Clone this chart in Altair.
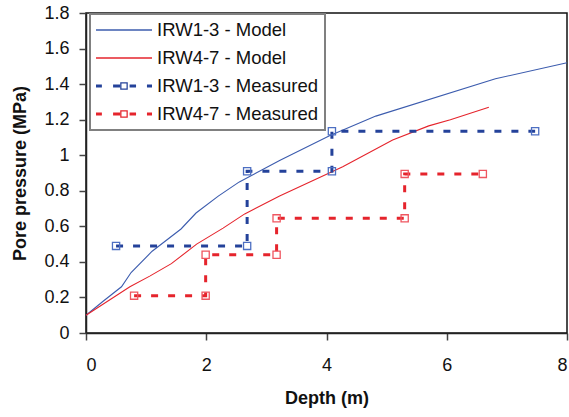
import altair as alt
import pandas as pd

SERIES = ["IRW1-3 - Model", "IRW4-7 - Model", "IRW1-3 - Measured", "IRW4-7 - Measured"]

# Model curves
M13_DEPTH = [0, 0.29, 0.59, 0.75, 1.1, 1.58, 1.83, 2.2, 2.55, 3.22, 4.05, 4.82, 6.81, 8.0]
M13_PRES = [0.10, 0.18, 0.26, 0.34, 0.46, 0.585, 0.675, 0.77, 0.85, 0.97, 1.11, 1.22, 1.43, 1.52]
M47_DEPTH = [0, 0.73, 1.06, 1.42, 1.84, 2.28, 2.64, 3.22, 4.27, 5.10, 5.70, 6.06, 6.70]
M47_PRES = [0.10, 0.26, 0.32, 0.39, 0.50, 0.59, 0.67, 0.77, 0.935, 1.085, 1.165, 1.20, 1.27]

# Measured (step) series
S13_DEPTH = [0.5, 2.68, 2.68, 4.09, 4.09, 7.47]
S13_PRES = [0.49, 0.49, 0.91, 0.91, 1.135, 1.135]
S47_DEPTH = [0.8, 1.99, 1.99, 3.17, 3.17, 5.30, 5.30, 6.60]
S47_PRES = [0.21, 0.21, 0.44, 0.44, 0.645, 0.645, 0.895, 0.895]

X_TICKS = [0, 2, 4, 6, 8]
Y_TICKS = [0, 0.2, 0.4, 0.6, 0.8, 1.0, 1.2, 1.4, 1.6, 1.8]

LINE_COLORS = ["#3c5cae", "#e5242c", "#24429a", "#e5242c"]
MARKER_COLORS = ["#4d6fc2", "#ef5660"]

MEAS_PATH = (
    "M-1,-0.055H-0.79V0.055H-1Z M-0.39,-0.055H-0.14V0.055H-0.39Z "
    "M0.2,-0.055H0.43V0.055H0.2Z M0.82,-0.055H1V0.055H0.82Z "
    "M-0.135,-0.135H0.135V0.135H-0.135Z M-0.09,-0.09V0.09H0.09V-0.09Z"
)
MODEL_PATH = "M-1,-0.025H1V0.025H-1Z"
LEGEND_PATHS = [MODEL_PATH, MODEL_PATH, MEAS_PATH, MEAS_PATH]

rows = []
for name, kind, xs, ys in [
    (SERIES[0], "Model", M13_DEPTH, M13_PRES),
    (SERIES[1], "Model", M47_DEPTH, M47_PRES),
    (SERIES[2], "Measured", S13_DEPTH, S13_PRES),
    (SERIES[3], "Measured", S47_DEPTH, S47_PRES),
]:
    for i, (x, y) in enumerate(zip(xs, ys)):
        rows.append({"series": name, "kind": kind, "depth": x, "pressure": y, "idx": i})
df = pd.DataFrame(rows)

FONT = "Liberation Sans"

x_enc = alt.X(
    "depth:Q",
    scale=alt.Scale(domain=[0, 8], nice=False, zero=False),
    axis=alt.Axis(values=X_TICKS, title="Depth (m)", labelPadding=16,
                  titleY=70, titleBaseline="alphabetic"),
)
y_enc = alt.Y(
    "pressure:Q",
    scale=alt.Scale(domain=[0, 1.8], nice=False, zero=False),
    axis=alt.Axis(values=Y_TICKS, format="~g", title="Pore pressure (MPa)",
                  labelPadding=10, titleX=-61, titleY=160, titleBaseline="alphabetic"),
)

# line colour scale (domain listed in reverse so it is not merged with the legend's scale)
color_scale = alt.Scale(domain=SERIES[::-1], range=LINE_COLORS[::-1])

base = alt.Chart(df)

model = base.transform_filter(alt.datum.kind == "Model").mark_line(strokeWidth=1.1).encode(
    x=x_enc, y=y_enc,
    color=alt.Color("series:N", scale=color_scale, legend=None),
    order=alt.Order("idx:Q"),
)

measured = base.transform_filter(alt.datum.kind == "Measured").mark_line(
    strokeWidth=3, strokeDash=[7, 10]
).encode(
    x=x_enc, y=y_enc,
    color=alt.Color("series:N", scale=color_scale, legend=None),
    order=alt.Order("idx:Q"),
)

points = base.transform_filter(alt.datum.kind == "Measured").mark_point(
    shape="square", filled=False, size=52, strokeWidth=1.3, opacity=1
).encode(
    x=x_enc, y=y_enc,
    stroke=alt.Stroke("series:N", scale=alt.Scale(domain=SERIES[2:], range=MARKER_COLORS), legend=None),
)

leg = alt.Legend(title=None, orient="none", legendX=4, legendY=1, symbolOpacity=1,
                 clipHeight=20, labelLimit=400)
legend_layer = base.mark_point(filled=True, strokeWidth=0, opacity=0).encode(
    x=x_enc, y=y_enc,
    fill=alt.Fill("series:N", scale=alt.Scale(domain=SERIES, range=LINE_COLORS), legend=leg),
    shape=alt.Shape("series:N", scale=alt.Scale(domain=SERIES, range=LEGEND_PATHS), legend=leg),
)

chart = alt.layer(model, measured, points, legend_layer).properties(
    width=481, height=320,
    autosize=alt.AutoSizeParams(type="none"),
    padding={"left": 86, "top": 13, "right": 2, "bottom": 84},
).configure_view(
    stroke="#111", strokeWidth=1.5
).configure_axis(
    grid=False, domainColor="#222", domainWidth=1.5, tickColor="#444", tickWidth=1.5,
    tickSize=7, labelFont=FONT, labelFontSize=18, labelColor="#111",
    titleFont=FONT, titleFontSize=18, titleFontWeight="bold", titleColor="#111",
).configure_legend(
    labelFont=FONT, labelFontSize=18.5, labelColor="#111", symbolSize=3136,
    symbolStrokeWidth=0, labelOffset=5, padding=6, rowPadding=8,
    strokeColor="#808080", strokeWidth=2, fillColor="white", cornerRadius=0,
)

chart.save("out.html", embed_options={"renderer": "svg", "actions": False})
